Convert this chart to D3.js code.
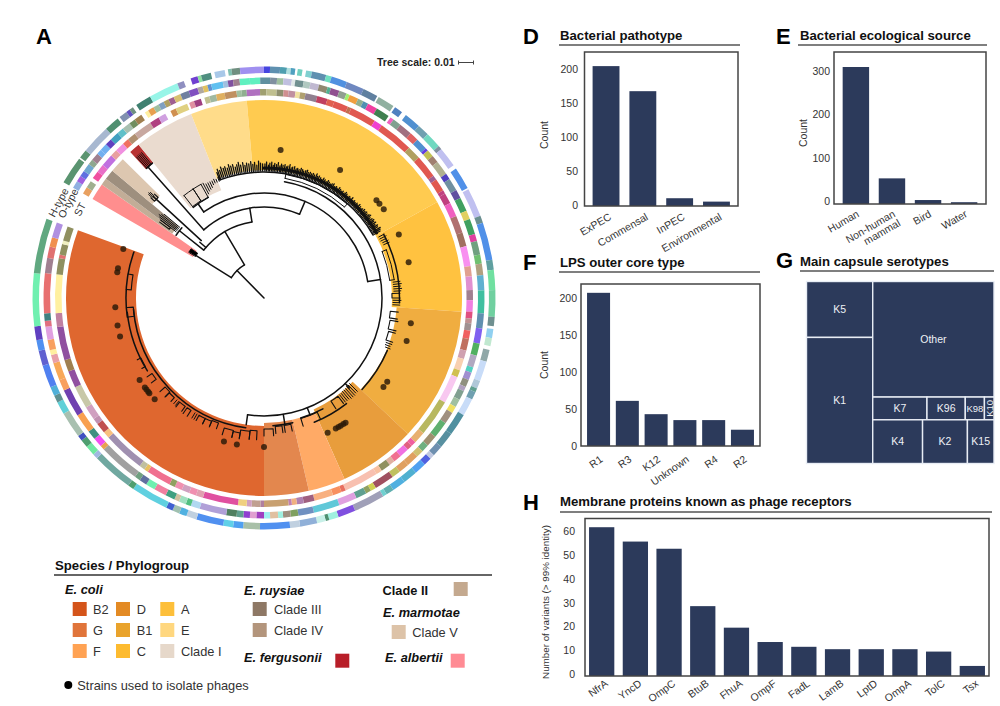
<!DOCTYPE html>
<html><head><meta charset="utf-8">
<script src="https://cdn.jsdelivr.net/npm/d3@7"></script>
<style>
html,body{margin:0;padding:0;background:#fff}
text{font-family:"Liberation Sans",Arial,sans-serif}
</style></head><body>
<svg id="c" width="1000" height="706" viewBox="0 0 1000 706"></svg>
<script>
// ---------- bar panels ----------
const pathotypeNames=["ExPEC","Commensal","InPEC","Environmental"];
const pathotypeCounts=[205,168,10,5];
const sourceNames=[["Human"],["Non-human","mammal"],["Bird"],["Water"]];
const sourceCounts=[315,58,8,3];
const lpsNames=["R1","R3","K12","Unknown","R4","R2"];
const lpsCounts=[207,61,43,35,35,22];
const receptorNames=["NfrA","YncD","OmpC","BtuB","FhuA","OmpF","FadL","LamB","LptD","OmpA","TolC","Tsx"];
const receptorCounts=[62,56,53,29,20,14,12,11,11,11,10,4];
const pathotypeTicks=[0,50,100,150,200];
const sourceTicks=[0,100,200,300];
const lpsTicks=[0,50,100,150,200];
const receptorTicks=[0,10,20,30,40,50,60];
// ---------- treemap (G) ----------
const capsuleColumn1=[["K5",51],["K1",115]];
const capsuleOther=[["Other",193]];
const capsuleRow1=[["K7",17],["K96",12],["K98",6],["K10",3]];
const capsuleRow2=[["K4",30],["K2",27],["K15",16]];
// ---------- phylogroups ----------
const groupNames=["E. albertii","Clade IV","Clade III","Clade V","E. fergusonii","Clade I","E","A","C","B1","D","F","G","B2"];
const groupStart=[-60,-55,-53,-50,-42.5,-39.3,-21.6,-5,61,94,133.4,156,166.9,180];
const groupEnd=[-55,-53,-50,-45.5,-39.3,-21.6,-5,61,94,133.4,156,166.9,180,290];
const groupNode=[82,112,112,146,175,116,128,128,128,133,122,125,125,128];
const groupFill=["#FF8E8E","#C2AD97","#9E8F7E","#DDC7B0","#B83232","#EADBCF","#FFDC8A","#FFCB50","#FFC240","#F0AD40","#E89D3C","#FFAA66","#E3874E","#DF672F"];
// ---------- phage isolation strains (angle along the tree) ----------
const strainAngles=[6.4,30.7,49,50.8,53.5,64.8,76.1,99.8,106.8,124.2,126.7,154.7,151.2,150,149,147.8,146.8,180,190.5,195.6,227.2,230.3,231,232.1,233.1,236.6,255,259.4,266.4,280,281.5,289.2];
// ---------- annotation rings: end angle of each block, and its colour (null = no data) ----------
const ringStart=-60;
const ringHEnds=[-53,-52.6,-50.4,-43,-39.2,-38.6,-36.5,-35.5,-34.5,-33.5,-29.5,-22,-20.3,-18.5,-16.7,-15.8,-13.3,-12.4,-9.8,-9,-8.1,-6,0,1.5,4,5.7,6.7,7.8,8.4,9.6,10.5,12,15.6,17,21,25.5,29.3,29.7,34,34.5,36.6,37.8,42,45,49,50,55,56,61.6,62,69.2,71,80.5,83,88,94.7,97,97.7,100,102,103,106,111,113,114,116,120.4,126,130,132.8,134,136,139,142.6,146,148,149,156.8,161.2,163.6,164.5,166.7,171,173.5,181,185.2,187.7,190.2,197,199.6,201.5,203.3,205,214.4,215.9,226.2,227.5,230,232,233.4,240,243.2,245,247.3,253,256.8,259.5,262.9,276.2,290];
const ringHColors=["#5a9470",null,"#5a9470","#a8b8d0","#4f8f70",null,"#8090b0","#6050c0","#6f9080",null,"#3f8070","#98f5e8","#8f8fc0",null,"#7040d0","#90e0a0","#4f8f80",null,"#a8c8e8",null,"#80c0b0","#708f80","#a090f0","#4545e0","#5f90b0","#4f9fb0","#b0e0e0","#50a0c0",null,"#70d0c0",null,"#80d0d0","#5f90b0","#70e0c0","#5090e0","#6f88c0","#6080a0",null,"#90b0a0",null,"#5080c0",null,"#5090d0","#6fa0b0","#70d8c0","#8090a0","#c0c0f0",null,"#5090e8",null,"#c0c0f0","#6a8f90","#5090e8","#60a0a0","#70e0a0","#70d0a0","#6f9090",null,"#90d0f0","#c0e8d0",null,"#90a8a8","#c8dcf8","#b0c8d8","#60a090","#70a0b0","#c8dcf8","#5090a0","#5890a0","#6f90b0","#c0c8e0","#5060e0","#50a0f0","#50b0d0","#50b0e0","#60b0b0","#70d0d0","#a0a0b8","#8050e0","#a0f0e0","#4f8f70","#c8f0e8","#90b0d8","#c0d0e0","#5090f0","#a8c0a8","#50a0f0","#60d0e8","#5090f0","#c0d0e0","#50b0e0","#a0c0b0","#4060d0","#60d0e0","#4f9f70","#70a8a0","#a0b8e0","#70e8a0","#4f9f70","#4050c0","#a8c0b0","#60d0d8","#5f9090","#50b0d8","#5080f0","#6060d0","#5090f0","#6040c0","#70f0b0","#60a880"];
const ringOEnds=[-58,-56.4,-54.8,-52.6,-51.2,-49.1,-47.8,-45.8,-44,-41.6,-39.8,-37.6,-35.9,-33.8,-32.7,-31.7,-30.1,-28.6,-27.1,-25.7,-24.2,-22.3,-20,-17.6,-16.2,-14.9,-13.9,-10.8,-9.5,-8.1,-6.4,-3.7,-1,1.6,3.4,5.1,7.3,8.2,10.4,12.2,14.5,16.8,17.7,20,22,22.9,25.3,26.8,28.2,30.8,34.4,35,36,38.2,41.7,44.1,47.2,48,49.9,51.9,55.7,57.3,60.7,63,66.7,69,73.1,75,78.6,81,84,88,94,98,102,105.2,108.4,109.8,111.8,113.8,115,117.5,119.6,121.4,124.6,129,132,134,136,139.2,142,144.3,149.5,151,152.4,155.2,160,166.9,171,173,175,176.3,178.4,180,182,183.7,185.4,187.2,189.9,197,199.4,200.8,202.7,204,206.5,209.8,212.3,214.3,215.8,226.6,227.8,230.3,232.7,237.8,245.2,248.1,252.8,255,256.3,259,262.5,264,266,276.5,280.5,283.5,286,290];
const ringOColors=["#90b0e0","#a060e0","#6070e0","#70a8d0","#8fa890","#a08090","#70b0f0","#70b0f0","#6040c0","#40a0c0","#60c0c8","#a8c0b0","#708f60","#a08050",null,"#ffef9f","#e8a050","#a0c0a0","#80a0c0","#b0a060","#a06090","#d8c070","#7080a0","#8050c0","#b0a8a0","#e0c060","#6090d0","#60c0f0","#a0c0e0","#8050a0","#a08090","#60f0c0","#60f0c0","#6090a0","#8090a0","#a0c0a0","#c0c0e0","#e0e8e8","#709090","#b0c8c0","#c0b8d0","#908870","#50b090","#905090","#90a090","#a0f070","#f0a040","#90b090","#5090b0","#f040a0","#408050",null,"#f060c0","#80a090","#a07080","#e06060","#5090d0","#6040e0","#c0c050","#a08070","#b0b090","#5040c0","#7090a0","#6050a0","#40a060","#e0d060","#40a060","#e040a0","#70a080","#70c070","#b0a080","#60b0d0","#40c0a0","#6090b0","#8060f0","#50b060","#b0a8c0","#50d0c0","#a090d0","#909080","#b0a0c0","#80a090","#a0c0a0","#f0e060","#a09080","#60b070","#a09070","#70b080","#d0c070","#e0a060","#e0a060","#c0c060","#a05060","#d0d050","#90a060","#60a090","#e0a0e0","#60c8d8","#7090c0","#80a060","#a09080","#a0f0e0","#e0c0a0","#a0f0f0","#a040c0","#e0a0d0","#9040d0","#60a090","#508060","#b0a0d8","#b0d8f0","#50c080","#a0e0c0","#d0c0a0","#40a080","#f080a0","#70f0b0","#6070a0","#70a080","#a0a0a0","#e8a050","#f050f0","#3f8f80","#f8a050","#7040b0","#f8a060","#f8a858","#e8a0a8","#ffef9f","#f8a060","#e0a0e0","#e07080","#408080","#e87070","#a08090","#e07070","#f09050","#b090e0"];
const ringSEnds=[-58,-56,-55,-52.8,-50.5,-47,-45,-42.4,-40.6,-38.2,-33,-30.3,-28.2,-26.6,-25,-21.6,-21,-19.6,-17.6,-16.6,-15.2,-13.3,-10.9,-7.6,-6.2,-4.8,-1.1,0.7,3.5,5.4,6.8,8.7,10,11.5,14.8,17.7,19.7,23.7,24.7,32,34.3,44,47.8,54.2,55.5,59,60,63,66.9,71.7,75.6,81.2,84,87.8,90.6,93.8,95.7,97,99,101.3,104.6,107,110.3,112.3,120,130.3,133.6,135,136.5,139.2,141.4,143,145.7,147.4,157,158.2,160.7,166,169,170.9,172.3,173.2,180,181,183.4,184.8,187.2,197,199,201,203.2,205.3,206.9,213.8,214.9,216.5,228.1,230,232.9,234.6,238.4,244.7,249.4,252.7,262,265.8,276.5,281,282,285,286,290];
const ringSColors=["#e8a060","#a0b090",null,"#f050a0","#e870c8","#c070e0","#e8a0a0","#f090e0","#f07060","#b09070","#c8a8a0","#b04080","#d0a0e0",null,"#d09050","#e0d080",null,"#e090a0","#a04080",null,"#c0c090","#a0b8a0","#e0b060","#c09060","#a0c0a0","#90b090","#b070c0","#a0a070","#c0c090","#8f9070","#d09090","#c090a0","#f0e0a0","#b0a070","#908090","#c04060","#e06050","#e05850","#c07050","#e05850","#f040d0","#e05850","#b0a060","#e05850","#a06090","#e05850","#c04080","#c04080","#f060c0","#b07070","#a07060","#f890f0","#e0a090","#e090d0","#a08090","#f080e0","#e05080","#c09090","#a09090","#f06060","#c07060","#d0a0b0","#f8d0b0","#d0c050","#f8c8f0","#b8b860","#e8b070","#f060a0","#e06080","#f070e0","#f07090","#e0b0a0","#909060","#f8c0a0","#f8c0b0","#e87060","#f89060","#f8b080","#a06080","#b080b0","#f0b080","#c080b0","#c8a070","#b080a0","#c0a090","#d0a0c0","#f0d080","#e050a0","#e0a0b0","#f090b0","#d0a0c0","#f090b0","#90a060","#f07090","#e8c060","#c0c0a0","#a090b0","#f8c080","#c05050","#c090b0","#d0a0c0","#c8c8a8","#9050a0","#a08050","#9050a0","#c080a0","#fff0a0","#8f8f60","#e07070","#909060","#f0f0c0","#909060"];
// ---------- tree: [angle, r0, r1] branches, [r, a0, a1] arcs, [a0, a1, r0, r1] clades ----------
const treeBranches=[[315.4,0,38.5],[302,38.5,80],[329.5,38.5,77],[351,77,91],[318.5,91,175],[23,91,105],[81,105,118],[325,105,115],[308.5,77,108],[312.5,85,150],[311,77,85],[188,118,128],[170.6,118,128],[158.5,118,125.5],[136.5,118,124],[339.6,126,130]];
const treeArcs=[[38.5,302,329.5],[77,308.5,351],[91,318.5,383],[105,325,441],[118,370,548],[126,339.6,420],[175,317.8,320.4],[135.5,422,452],[134,473,493],[131,188,265],[137.5,238,264],[138,262,289.5],[128,167,176],[125.5,152,163],[134,142,158],[108,305.5,310.5],[115,322,331]];
const treeBoxes=[[370,401.5,121.5,125.5],[322,327,116,130],[327,331,115,130],[428.5,442,127,131.5]];
const treeForks=[[273.5,280,133,138],[262,266,131,137],[240,244,137,141],[233,236,135,141],[225,228,133,140],[222,225,134,139],[216,219,134,140],[213,215,134,141],[206,209,134,140],[203,206,134,140],[200,203,133,139],[193,197,136,143],[190,193,137,143],[186,190,134,142],[183,186,133,142],[176,180,131,138],[172,175,129,136],[168,171,129,136],[155,163,126,134],[143,147,123,132],[96,99,127,135],[100,104,128,136],[105,109,129,136],[306,307,117,129],[311.5,313.5,146,151],[88,90,128,136]];
const tipsTop=[[-20.6,134],[-20,137],[-19.2,135],[-18.4,138],[-17.5,136],[-16.7,137],[-15.8,135],[-15,138],[-14.2,136],[-13.3,137],[-12.4,134],[-11.6,136],[-10.8,138],[-10,135],[-9,137],[-8.2,134],[-7.4,136],[-6.5,135],[-5.6,137],[-4.8,134],[-4,136],[-3.1,133],[-2.3,137],[-1.5,135],[-.6,134],[0.4,134],[1.1,136],[1.9,133],[2.5,135],[3.3,136],[4,133],[4.6,135],[5.4,134],[6.1,136],[6.9,133],[7.5,135],[8.2,134],[9,135],[9.7,133],[10.3,134],[11.1,136],[11.8,133],[12.4,134],[13.2,135],[14,133],[14.6,134],[15.3,133],[16.1,135],[16.8,134],[17.4,133],[18.2,134],[18.9,135],[19.5,133],[20.3,134],[21,133],[21.7,134],[22.4,133],[23.2,135],[23.8,133],[24.5,134],[25.3,133],[26,132],[26.6,134],[27.4,133],[28.1,132],[28.8,134],[29.5,133],[30.3,132],[30.9,133],[31.6,134],[32.4,132],[33.1,133],[33.7,132],[34.5,134],[35.2,133],[35.9,132],[36.6,133],[37.4,132],[38,134],[38.7,133],[39.5,132],[40.2,133],[40.8,132],[41.6,134],[42.3,132],[43,133],[43.7,132],[44.5,133],[45.1,132],[45.8,134],[46.6,133],[47.3,132],[47.9,133],[48.7,134],[49.4,133],[50.1,134],[50.8,133],[51.6,134],[52.2,135],[52.9,133],[53.7,134],[54.4,135],[55,134],[55.8,135],[56.5,133],[57.2,135],[57.9,134],[58.7,136],[59.3,135],[60,134]];
const tipsOther=[[62,136,130],[63,137,130],[64,136,130],[65,137,131],[66,137,131],[83,137,130],[84,138,130],[85,137,130],[86,138,130],[87,137,130],[91,137,129],[92,136,129],[93,136,129],[110,136,130],[111,135,130],[112,136,131],[135,132,121],[136,132,121],[137,133,121],[138,133,122],[139,133,122],[140,132,122],[141,132,123],[142,132,123],[307,130,110],[307.8,132,110],[308.5,134,110],[309.2,132,110],[310,130,110],[311.9,155,150],[312.4,156,150],[312.9,155,150],[317.9,190,175],[318.4,190,175],[318.9,190,175],[319.4,190,175],[319.9,190,175],[332,130,118],[333,128,120],[334,128,121],[335,128,122],[336,128,124],[337,129,125],[338,128,125],[339,129,125],[210,140,134],[211,140,134],[219.5,139,134],[220.5,139,134]];
// ---------- legend ----------
const legendColumn1=[["B2","#D4541A"],["G","#E0743A"],["F","#FFA253"]];
const legendColumn2=[["D","#E38A24"],["B1","#E9A32C"],["C","#FDBB30"]];
const legendColumn3=[["A","#FDBF3A"],["E","#FFD77F"],["Clade I","#E6D8CA"]];
const legendRuysiae=[["Clade III","#8E7865"],["Clade IV","#B3957C"]];

const svg=d3.select("#c");
const NAVY="#2c3a5b", DARK="#333";
const cx=264, cy=298;
const ang=d3.scaleLinear().domain([0,360]).range([0,2*Math.PI]);
const rad=d3.scaleLinear().domain([0,100]).range([0,100]);

// ---------- circular tree ----------
const tree=svg.append("g").attr("transform",`translate(${cx},${cy})`);
const arcGen=d3.arc();
tree.append("g").selectAll("path").data(groupNames.map((n,i)=>i)).join("path")
  .attr("d",i=>arcGen({innerRadius:rad(groupNode[i]),outerRadius:rad(198),startAngle:ang(groupStart[i]),endAngle:ang(groupEnd[i])}))
  .attr("fill",i=>groupFill[i]);

function drawRing(ends,colors,r0,r1){
  let prev=ringStart;
  const blocks=ends.map((e,i)=>{const b={a0:prev,a1:e,c:colors[i]};prev=e;return b;}).filter(b=>b.c);
  tree.append("g").selectAll("path").data(blocks).join("path")
   .attr("d",b=>arcGen({innerRadius:rad(r0),outerRadius:rad(r1),startAngle:ang(b.a0),endAngle:ang(b.a1)}))
   .attr("fill",b=>b.c);
}
drawRing(ringSEnds,ringSColors,202.5,209);
drawRing(ringOEnds,ringOColors,214,220.5);
drawRing(ringHEnds,ringHColors,225,231.5);

const polar=(a,r)=>[rad(r)*Math.sin(ang(a)),-rad(r)*Math.cos(ang(a))];
function segPath(a,r0,r1){const p=d3.path();const s=polar(a,r0),e=polar(a,r1);p.moveTo(s[0],s[1]);p.lineTo(e[0],e[1]);return p.toString();}
function arcPath(r,a0,a1){const p=d3.path();p.arc(0,0,rad(r),ang(a0)-Math.PI/2,ang(a1)-Math.PI/2);return p.toString();}
const lines=tree.append("g").attr("fill","none").attr("stroke","#111").attr("stroke-linecap","round");
lines.append("g").attr("stroke-width",1.5).selectAll("path").data(treeBranches).join("path").attr("d",d=>segPath(...d));
lines.append("g").attr("stroke-width",1.5).selectAll("path").data(treeArcs).join("path").attr("d",d=>arcPath(...d));
lines.append("g").attr("stroke-width",1).selectAll("path").data(treeBoxes).join("path").attr("d",d=>{
  const [a0,a1,r0,r1]=d;return arcPath(r0,a0,a1)+arcPath(r1,a0,a1)+segPath(a0,r0,r1)+segPath(a1,r0,r1);});
lines.append("g").attr("stroke-width",1.1).selectAll("path").data(treeForks).join("path").attr("d",d=>{
  const [a0,a1,r0,r1]=d;return arcPath(r0,a0,a1)+segPath(a0,r0,r1)+segPath(a1,r0,r1);});
lines.append("g").attr("stroke-width",1.3).selectAll("path").data(tipsTop).join("path").attr("d",d=>segPath(d[0],127,d[1]));
lines.append("g").attr("stroke-width",1).selectAll("path").data(tipsOther).join("path").attr("d",d=>segPath(d[0],d[2],d[1]));
lines.append("path").attr("d",arcPath(130,0,60)).attr("stroke-width",3);
lines.append("path").attr("d",arcGen({innerRadius:rad(80),outerRadius:rad(88),startAngle:ang(301.5),endAngle:ang(304)})).attr("fill","#000");
// strain dots
tree.append("g").selectAll("circle").data(strainAngles).join("circle")
 .attr("cx",a=>polar(a,149)[0]).attr("cy",a=>polar(a,149)[1]).attr("r",3)
 .attr("fill","#2a1a08").attr("fill-opacity",.82);

// ring titles
[["H-type",54.5,218],["O-type",64,219],["ST",80,217]].forEach(t=>{
 svg.append("text").text(t[0]).attr("transform",`translate(${t[1]},${t[2]}) rotate(-62)`)
  .attr("font-size",10.5).attr("fill","#333");
});
// tree scale
svg.append("text").text("Tree scale: 0.01").attr("x",377).attr("y",65.5).attr("font-size",10.5).attr("font-weight","bold").attr("fill","#222");
svg.append("path").attr("d","M458.5 60.5V64.5M458.5 62.5H473.5M473.5 60.5V64.5").attr("stroke","#444").attr("fill","none");

// ---------- panel heads ----------
function letter(s,x,y){svg.append("text").text(s).attr("x",x).attr("y",y).attr("font-size",22).attr("font-weight","bold").attr("fill","#000");}
function head(s,x,y,lx0,lx1,ly){
 svg.append("text").text(s).attr("x",x).attr("y",y).attr("font-size",13.2).attr("font-weight","bold").attr("fill","#111");
 svg.append("line").attr("x1",lx0).attr("x2",lx1).attr("y1",ly).attr("y2",ly).attr("stroke","#555").attr("stroke-width",1.4);
}
letter("A",36,44);letter("D",523,44);letter("E",776,44);letter("F",523,270);letter("G",776,268);letter("H",523,510);
head("Bacterial pathotype",560,39.5,559,740,45);
head("Bacterial ecological source",800,39.5,798,987,45);
head("LPS outer core type",560,267,559,760,272);
head("Main capsule serotypes",800,266,800,994,271);
head("Membrane proteins known as phage receptors",560,506,560,992,512);

// ---------- bar charts ----------
function bars(o){
 const g=svg.append("g");
 const x=d3.scaleBand().domain(o.names.map((n,i)=>i)).range(o.xr).paddingInner(o.inner).paddingOuter(o.outer);
 const y=d3.scaleLinear().domain([0,o.tickTop]).range([o.y0,o.yt]);
 g.selectAll("rect").data(o.values).join("rect")
  .attr("x",(d,i)=>x(i)).attr("width",x.bandwidth()).attr("y",d=>y(d)).attr("height",d=>o.base-y(d)).attr("fill",NAVY);
 g.append("rect").attr("x",o.xr[0]).attr("y",o.top).attr("width",o.xr[1]-o.xr[0]).attr("height",o.base-o.top)
  .attr("fill","none").attr("stroke","#444").attr("stroke-width",1.5);
 const ax=g.append("g").attr("transform",`translate(${o.tx},0)`).call(d3.axisLeft(y).tickValues(o.ticks).tickSize(0).tickPadding(0));
 ax.select(".domain").remove();
 ax.selectAll("text").attr("font-size",10.5).attr("fill",DARK).attr("font-family",'"Liberation Sans",Arial,sans-serif').attr("dy",o.tdy);
 g.append("text").text(o.ylab).attr("transform",`translate(${o.ylx},${o.yly}) rotate(-90)`).attr("text-anchor","middle")
  .attr("font-size",o.yfs).attr("fill",DARK);
 o.names.forEach((n,i)=>{
  const lines=Array.isArray(n)?n:[n];
  const px=x(i)+x.bandwidth()/2+o.lx, py=o.base+o.ly;
  const t=g.append("text").attr("transform",`translate(${px},${py}) rotate(${o.rot})`).attr("text-anchor","end").attr("font-size",o.fs).attr("fill",DARK);
  lines.forEach((l,k)=>{t.append("tspan").text(l).attr("x",0).attr("dy",k?o.fs*1:0);});
 });
}
bars({names:pathotypeNames,values:pathotypeCounts,ticks:pathotypeTicks,tickTop:200,xr:[584.5,738],inner:.27,outer:.22,top:52,base:206,y0:205,yt:69.5,tx:578,tdy:"0.3em",fs:10.5,ylab:"Count",ylx:548,yly:135,yfs:10.5,rot:-30,lx:6,ly:13});
bars({names:sourceNames,values:sourceCounts,ticks:sourceTicks,tickTop:300,xr:[834,986],inner:.267,outer:.24,top:52,base:204,y0:203.5,yt:73.5,tx:830,tdy:"0.1em",fs:10.5,ylab:"Count",ylx:807,yly:133,yfs:10.5,rot:-30,lx:4,ly:12});
bars({names:lpsNames,values:lpsCounts,ticks:lpsTicks,tickTop:200,xr:[581,760],inner:.2,outer:.21,top:284,base:446,y0:446,yt:298,tx:577,tdy:"0.3em",fs:10.5,ylab:"Count",ylx:548,yly:365,yfs:10.5,rot:-35,lx:5,ly:15});
bars({names:receptorNames,values:receptorCounts,ticks:receptorTicks,tickTop:60,xr:[585,989],inner:.25,outer:.12,top:518.5,base:676,y0:675.5,yt:532,tx:575,tdy:"0.22em",fs:10.5,ylab:"Number of variants (> 99% identity)",ylx:548.5,yly:602,yfs:9.8,rot:-36,lx:7,ly:9});

// ---------- treemap ----------
const toNode=a=>({name:a[0],value:a[1]});
const hier=d3.hierarchy({children:[
 {children:capsuleColumn1.map(toNode)},
 {children:[...capsuleOther.map(toNode),{children:capsuleRow1.map(toNode)},{children:capsuleRow2.map(toNode)}]}
]}).sum(d=>d.value||0);
d3.treemap().tile(d3.treemapSliceDice).size([187.5,182])(hier);
const tm=svg.append("g").attr("transform","translate(806.5,281.5)");
const leaves=tm.selectAll("g").data(hier.leaves()).join("g");
leaves.append("rect").attr("x",d=>d.x0).attr("y",d=>d.y0).attr("width",d=>d.x1-d.x0).attr("height",d=>d.y1-d.y0)
 .attr("fill",NAVY).attr("stroke","#e8edf5").attr("stroke-width",1.4);
leaves.append("text").text(d=>d.data.name)
 .attr("transform",d=>{const mx=(d.x0+d.x1)/2,my=(d.y0+d.y1)/2;return d.data.name==="K10"?`translate(${mx},${my}) rotate(-90)`:`translate(${mx},${my})`;})
 .attr("text-anchor","middle").attr("dy","0.35em").attr("font-size",d=>(d.data.name==="K98"||d.data.name==="K10")?9.5:10.5).attr("fill","#eef1f6");

// ---------- legend ----------
svg.append("text").text("Species / Phylogroup").attr("x",55).attr("y",569.5).attr("font-size",13.2).attr("font-weight","bold").attr("fill","#111");
svg.append("line").attr("x1",54).attr("x2",492).attr("y1",575).attr("y2",575).attr("stroke","#333").attr("stroke-width",1.3);
const lg=svg.append("g");
function ltext(s,x,y,w,st){lg.append("text").text(s).attr("x",x).attr("y",y).attr("font-size",12.8).attr("font-weight",w||"normal").attr("font-style",st||"normal").attr("fill",w?"#111":"#333");}
function swatch(c,x,y){lg.append("rect").attr("x",x).attr("y",y).attr("width",14).attr("height",14).attr("fill",c);}
ltext("E. coli",65,594,"bold","italic");ltext("E. ruysiae",244,594.5,"bold","italic");ltext("Clade II",382.5,594.5,"bold");
ltext("E. marmotae",383,616.5,"bold","italic");ltext("E. fergusonii",244,662,"bold","italic");ltext("E. albertii",385,662,"bold","italic");
const rowY=[602,623,644];
legendColumn1.forEach((d,i)=>{swatch(d[1],72.7,rowY[i]);ltext(d[0],93,rowY[i]+12);});
legendColumn2.forEach((d,i)=>{swatch(d[1],116,rowY[i]);ltext(d[0],136.7,rowY[i]+12);});
legendColumn3.forEach((d,i)=>{swatch(d[1],160.3,rowY[i]);ltext(d[0],181,rowY[i]+12);});
legendRuysiae.forEach((d,i)=>{swatch(d[1],252.7,rowY[i]);ltext(d[0],274,rowY[i]+12);});
swatch("#C4A98F",453.7,582);swatch("#DDC3A8",391.7,625);ltext("Clade V",412.3,637);
swatch("#B81E28",335.3,653.7);swatch("#FF8B94",450.7,653.7);
lg.append("circle").attr("cx",68.3).attr("cy",685).attr("r",4).attr("fill","#000");
ltext("Strains used to isolate phages",77.3,689.5);
</script></body></html>
